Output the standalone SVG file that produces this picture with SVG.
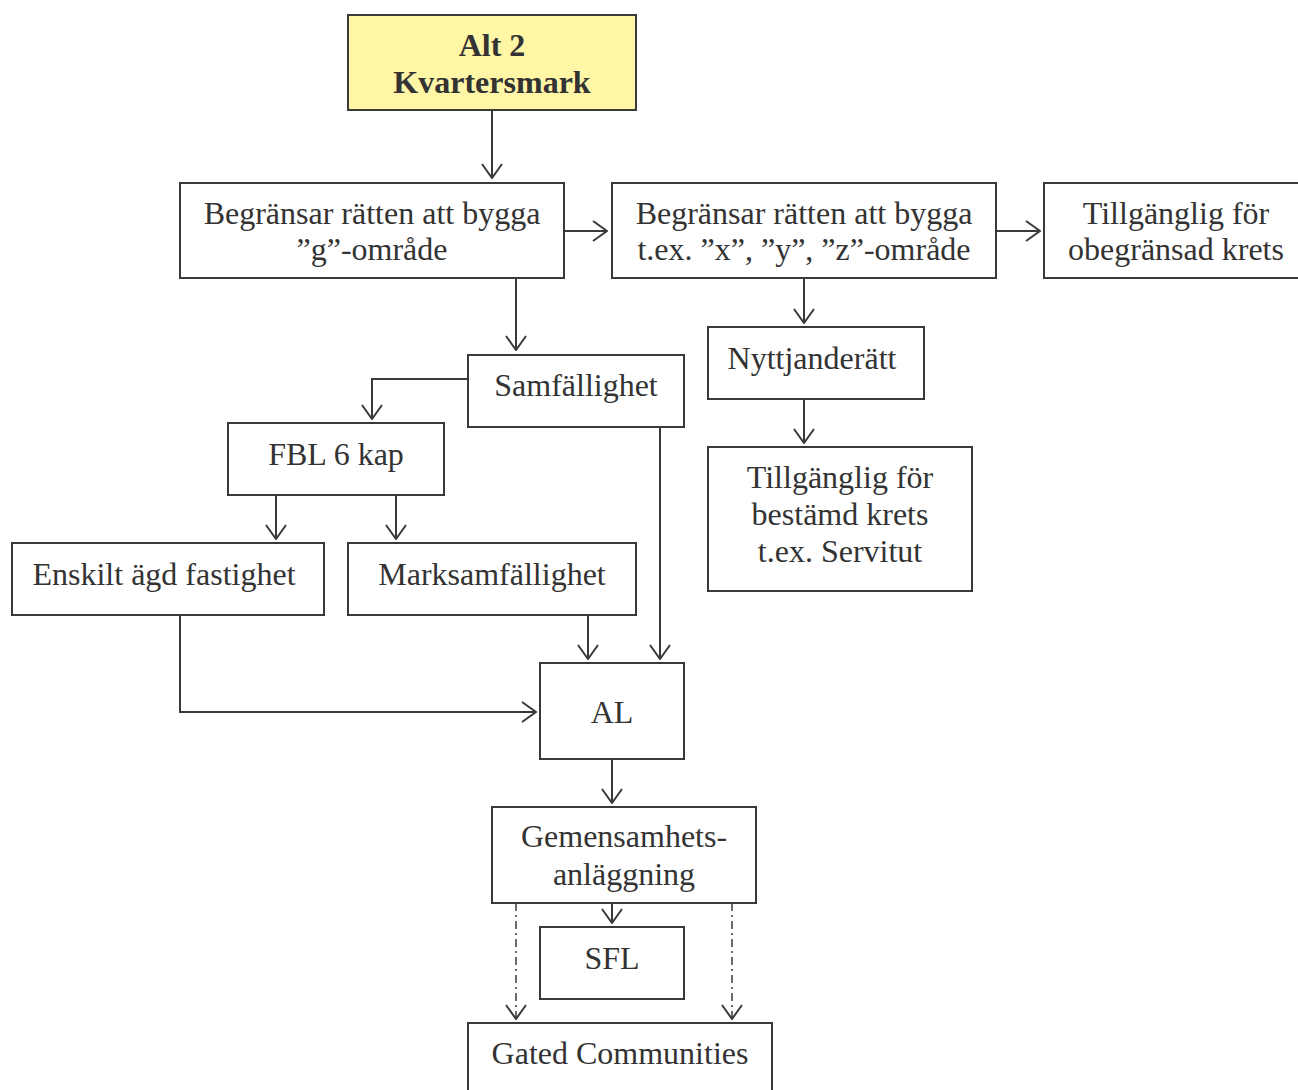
<svg xmlns="http://www.w3.org/2000/svg" width="1298" height="1090" viewBox="0 0 1298 1090">
<style>
.b{fill:#fff;stroke:#3a3a3a;stroke-width:2}
.y{fill:#fff6a6;stroke:#3a3a3a;stroke-width:2}
text{font-family:"Liberation Serif","Times New Roman",serif;font-size:32px;fill:#333;text-anchor:middle}
.bold{font-weight:bold}
.c{fill:none;stroke:#3a3a3a;stroke-width:2}
.d{stroke-dasharray:8 4 2 4;stroke-width:1.5}
</style>
<defs>
<marker id="a" viewBox="0 0 16 22" refX="15" refY="11" markerWidth="16" markerHeight="22" markerUnits="userSpaceOnUse" orient="auto">
<path d="M1,1 L15,11 L1,21" fill="none" stroke="#3a3a3a" stroke-width="2"/>
</marker>
</defs>
<g id="connectors">
<path class="c" d="M492,110 V178" marker-end="url(#a)"/>
<path class="c" d="M564,231 H607" marker-end="url(#a)"/>
<path class="c" d="M996,231 H1040" marker-end="url(#a)"/>
<path class="c" d="M516,278 V350" marker-end="url(#a)"/>
<path class="c" d="M804,278 V323" marker-end="url(#a)"/>
<path class="c" d="M804,399 V443" marker-end="url(#a)"/>
<path class="c" d="M468,379 H372 V419" marker-end="url(#a)"/>
<path class="c" d="M276,495 V539" marker-end="url(#a)"/>
<path class="c" d="M396,495 V539" marker-end="url(#a)"/>
<path class="c" d="M588,615 V659" marker-end="url(#a)"/>
<path class="c" d="M660,423 V659" marker-end="url(#a)"/>
<path class="c" d="M180,615 V712 H536" marker-end="url(#a)"/>
<path class="c" d="M612,759 V803" marker-end="url(#a)"/>
<path class="c" d="M612,903 V923" marker-end="url(#a)"/>
<path class="c d" d="M516,903 V1019" marker-end="url(#a)"/>
<path class="c d" d="M732,903 V1019" marker-end="url(#a)"/>
</g>
<g id="alt2"><rect class="y" x="348" y="15" width="288" height="95"/><text class="bold" x="492" y="56">Alt 2</text><text class="bold" x="492" y="93">Kvartersmark</text></g>
<g id="begr1"><rect class="b" x="180" y="183" width="384" height="95"/><text x="372" y="224">Begränsar rätten att bygga</text><text x="372" y="260">”g”-område</text></g>
<g id="begr2"><rect class="b" x="612" y="183" width="384" height="95"/><text x="804" y="224">Begränsar rätten att bygga</text><text x="804" y="260">t.ex. ”x”, ”y”, ”z”-område</text></g>
<g id="tillg1"><rect class="b" x="1044" y="183" width="262" height="95"/><text x="1176" y="224">Tillgänglig för</text><text x="1176" y="260">obegränsad krets</text></g>
<g id="samf"><rect class="b" x="468" y="355" width="216" height="72"/><text x="576" y="396">Samfällighet</text></g>
<g id="nytt"><rect class="b" x="708" y="327" width="216" height="72"/><text x="812" y="369">Nyttjanderätt</text></g>
<g id="tillg2"><rect class="b" x="708" y="447" width="264" height="144"/><text x="840" y="488">Tillgänglig för</text><text x="840" y="525">bestämd krets</text><text x="840" y="562">t.ex. Servitut</text></g>
<g id="fbl"><rect class="b" x="228" y="423" width="216" height="72"/><text x="336" y="465">FBL 6 kap</text></g>
<g id="enskilt"><rect class="b" x="12" y="543" width="312" height="72"/><text x="164" y="585">Enskilt ägd fastighet</text></g>
<g id="marks"><rect class="b" x="348" y="543" width="288" height="72"/><text x="492" y="585">Marksamfällighet</text></g>
<g id="al"><rect class="b" x="540" y="663" width="144" height="96"/><text x="612" y="723">AL</text></g>
<g id="ga"><rect class="b" x="492" y="807" width="264" height="96"/><text x="624" y="847">Gemensamhets-</text><text x="624" y="885">anläggning</text></g>
<g id="sfl"><rect class="b" x="540" y="927" width="144" height="72"/><text x="612" y="969">SFL</text></g>
<g id="gated"><rect class="b" x="468" y="1023" width="304" height="80"/><text x="620" y="1064">Gated Communities</text></g>
</svg>
